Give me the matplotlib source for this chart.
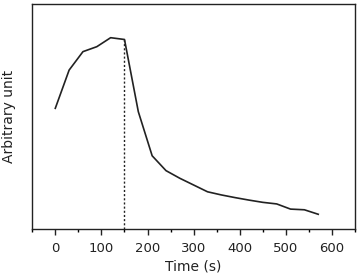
import matplotlib
matplotlib.use("Agg")
import matplotlib.pyplot as plt
from matplotlib.ticker import MultipleLocator

plt.rcParams['font.family'] = ['DejaVu Sans']

# Signal vs. time (arbitrary units)
time_s = [0, 30, 60, 90, 120, 150, 180, 210, 240, 270, 300,
          330, 360, 390, 420, 450, 480, 510, 540, 570]
signal = [53.8, 70.8, 79.0, 81.2, 85.2, 84.4, 52.3, 32.7, 26.1, 22.7, 19.7,
          16.7, 15.3, 14.1, 13.0, 12.0, 11.3, 9.0, 8.7, 6.7]
marker_time = 150

fig = plt.figure(figsize=(3.58, 2.75), dpi=100)
ax = fig.add_axes([0.090, 0.166, 0.902, 0.818])

ax.plot(time_s, signal, color='#222222', linewidth=1.2)
peak = signal[time_s.index(marker_time)]
ax.plot([marker_time, marker_time], [0, peak], color='#222222',
        linewidth=1.0, linestyle=(0, (1.5, 1.5)))

ax.set_xlim(-50, 650)
ax.set_ylim(0, 100)
ax.xaxis.set_major_locator(MultipleLocator(100))
ax.xaxis.set_minor_locator(MultipleLocator(50))
ax.set_yticks([])
ax.tick_params(axis='x', which='major', direction='out', length=4, width=1,
               labelsize=9.5, colors='#222222', pad=5)
ax.tick_params(axis='x', which='minor', direction='out', length=2.5, width=1)
for s in ax.spines.values():
    s.set_linewidth(1.0)
    s.set_color('#222222')

ax.set_xlabel("Time (s)", fontsize=10, color='#222222', labelpad=3)
ax.set_ylabel("Arbitrary unit", fontsize=10, color='#222222', labelpad=12)

fig.savefig("out.png", dpi=100)
